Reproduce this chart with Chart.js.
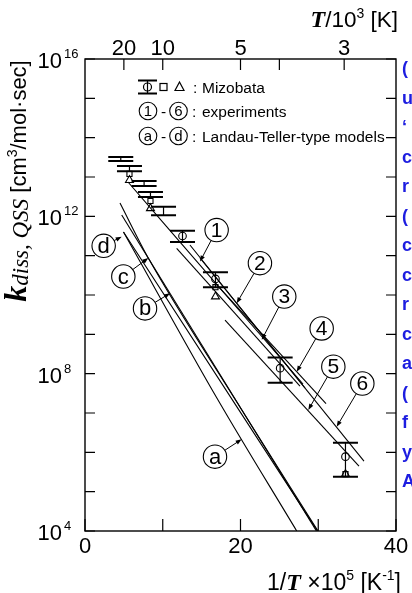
<!DOCTYPE html>
<html><head><meta charset="utf-8">
<script src="https://cdn.jsdelivr.net/npm/chart.js@4"></script>
<style>
html,body{margin:0;padding:0;background:#fff;overflow:hidden;width:412px;height:593px;}
#wrap{position:absolute;left:0;top:0;width:412px;height:593px;}
#side{position:absolute;left:402px;top:0;width:60px;height:593px;font:bold 18px "Liberation Sans",Arial,sans-serif;color:#1d1de0;white-space:nowrap;}
#side div{position:absolute;left:0;line-height:20px;}
</style></head><body>
<div id="wrap"><canvas id="c" width="412" height="593"></canvas></div>
<div id="side"></div>
<script>
// ---------------- data (x = 1/T x 1e5 [1/K], y = k [cm3/mol s]) ----------------
const bottomTickVals = [0, 10, 20, 30, 40];
const bottomTickLabels = ['0', '', '20', '', '40'];
const topTickTempK = [20000, 10000, 5000, 4000, 3000];
const topTickLabels = ['20', '10', '5', '', '3'];
const yDecadeExps = [4,5,6,7,8,9,10,11,12,13,14,15,16];
const yLabelExps = [4, 8, 12, 16];

// Mizobata: error bars
const mizoX    = [4.6, 5.72, 7.6, 8.42, 10.1, 12.54, 16.78, 25.1, 33.5];
const mizoLow  = [2.57e13, 1.41e13, 5.89e12, 3.09e12, 1.07e12, 2.24e11, 1.58e10, 5.89e7, 2.40e5];
const mizoHigh = [3.24e13, 1.91e13, 7.94e12, 4.17e12, 1.74e12, 4.27e11, 3.80e10, 2.57e8, 1.74e6];
// Mizobata: markers
const circleX = [12.54, 16.78, 25.1, 33.5];
const circleK = [3.16e11, 2.57e10, 1.38e8, 7.76e5];
const squareX = [5.72, 8.42, 16.78, 33.5];
const squareK = [1.2e13, 2.45e12, 1.58e10, 2.8e5];
const triangleX = [5.72, 8.42, 16.78, 33.5];
const triangleK = [8.3e12, 1.6e12, 9.1e9, 2.8e5];

// experiments 1-6
const exp1X = [5.53, 28.04],  exp1K = [7.46e12, 5.46e7];
const exp2X = [13.50, 28.30], exp2K = [1.87e11, 4.32e7];
const exp3X = [11.79, 27.65], exp3K = [1.54e11, 4.85e7];
const exp4X = [16.72, 31.00], exp4K = [2.02e10, 1.74e7];
const exp5X = [18.01, 35.24], exp5K = [2.31e9, 4.49e5];
const exp6X = [14.79, 35.88], exp6K = [8.71e10, 6.01e5];
// Landau-Teller-type models a-d
const modAX = [4.95, 17.11, 27.23], modAK = [3.99e11, 2.14e7, 1.0e4];
const modBX = [4.72, 29.77],        modBK = [1.08e12, 1.0e4];
const modCX = [4.50, 8.14, 19.36, 29.97], modCK = [2.18e12, 8.7e10, 2.14e7, 1.0e4];
const modDX = [4.95, 29.90],        modDK = [3.99e11, 1.0e4];

// circled labels and arrow tips
const labelText = ['1','2','3','4','5','6','a','b','c','d'];
const labelX = [16.93, 22.5, 25.63, 30.44, 31.94, 35.67, 16.72, 7.72, 4.93, 2.4];
const labelK = [4.47e11, 6.46e10, 9.12e9, 1.41e9, 1.51e8, 5.62e7, 7.76e5, 4.57e9, 2.95e10, 1.78e11];
const tipX = [14.79, 19.51, 22.73, 27.23, 28.72, 32.37, 20.15, 10.93, 8.14, 4.72];
const tipK = [7.08e10, 6.17e9, 7.24e8, 1.12e8, 1.20e7, 4.47e6, 2.14e6, 1.10e10, 8.7e10, 3.02e11];

const sideChars = ['(', 'u', '\u2018', 'c', 'r', '(', 'c', 'c', 'r', 'c', 'a', '(', 'f', 'y', 'A'];

// ---------------- rendering ----------------
const SANS = '"Liberation Sans", Arial, Helvetica, sans-serif';
const SERIF = '"Liberation Serif", "Times New Roman", serif';
const pts = (xs, ys) => xs.map((x, i) => ({x: x, y: ys[i]}));
const lineDS = (xs, ys) => ({type:'scatter', data: pts(xs, ys), showLine: true, pointRadius: 0, borderColor: '#000', borderWidth: 1.1, xAxisID:'x', yAxisID:'y', fill:false, cubicInterpolationMode:'monotone'});

function rich(ctx, parts, x, y, align) {
  let total = 0;
  parts.forEach(p => { ctx.font = p.f; p.w = ctx.measureText(p.t).width; total += p.w; });
  let cx = align === 'right' ? x - total : (align === 'center' ? x - total / 2 : x);
  ctx.textAlign = 'left';
  parts.forEach(p => { ctx.font = p.f; ctx.fillText(p.t, cx, y + (p.dy || 0)); cx += p.w; });
  return total;
}

const decor = {
  id: 'decor',
  beforeDatasetsDraw(chart) {
    const c = chart.ctx, xs = chart.scales.x, ys = chart.scales.y;
    c.save();
    c.strokeStyle = '#000';
    mizoX.forEach((v, i) => {
      const px = xs.getPixelForValue(v);
      const y1 = ys.getPixelForValue(mizoLow[i]), y2 = ys.getPixelForValue(mizoHigh[i]);
      c.lineWidth = 1.2;
      c.beginPath(); c.moveTo(px, y1); c.lineTo(px, y2); c.stroke();
      c.lineWidth = 2;
      c.beginPath(); c.moveTo(px - 12.5, y1); c.lineTo(px + 12.5, y1); c.moveTo(px - 12.5, y2); c.lineTo(px + 12.5, y2); c.stroke();
    });
    c.restore();
  },
  afterDraw(chart) {
    const c = chart.ctx, xs = chart.scales.x, ys = chart.scales.y, a = chart.chartArea;
    c.save();
    c.strokeStyle = '#000'; c.fillStyle = '#000';
    // frame
    c.lineWidth = 1.4;
    c.strokeRect(a.left, a.top, a.right - a.left, a.bottom - a.top);
    // ticks
    c.lineWidth = 1.2;
    c.beginPath();
    yDecadeExps.forEach(e => {
      const y = ys.getPixelForValue(Math.pow(10, e));
      c.moveTo(a.left, y); c.lineTo(a.left + 10, y);
      c.moveTo(a.right, y); c.lineTo(a.right - 10, y);
    });
    bottomTickVals.forEach(v => { const x = xs.getPixelForValue(v); c.moveTo(x, a.bottom); c.lineTo(x, a.bottom - 12); });
    topTickTempK.forEach(T => { const x = xs.getPixelForValue(1e5 / T); c.moveTo(x, a.top); c.lineTo(x, a.top + 11); });
    c.stroke();
    // tick labels
    c.textBaseline = 'alphabetic';
    c.font = '22px ' + SANS; c.textAlign = 'center';
    bottomTickVals.forEach((v, i) => { if (bottomTickLabels[i]) c.fillText(bottomTickLabels[i], xs.getPixelForValue(v), a.bottom + 22); });
    topTickTempK.forEach((T, i) => { if (topTickLabels[i]) c.fillText(topTickLabels[i], xs.getPixelForValue(1e5 / T), a.top - 4); });
    yLabelExps.forEach(e => {
      const y = ys.getPixelForValue(Math.pow(10, e));
      c.font = '22px ' + SANS; c.textAlign = 'right';
      c.fillText('10', a.left - 23, y + 9);
      c.font = '13px ' + SANS; c.textAlign = 'left';
      c.fillText(String(e), a.left - 21, y - 1);
    });
    // axis titles
    rich(c, [
      {t:'T', f:'bold italic 24px ' + SERIF},
      {t:'/10', f:'22.5px ' + SANS},
      {t:'3', f:'14px ' + SANS, dy:-9},
      {t:' [K]', f:'22.5px ' + SANS}
    ], 398, 27, 'right');
    rich(c, [
      {t:'1/', f:'23px ' + SANS},
      {t:'T', f:'bold italic 24px ' + SERIF},
      {t:' \u00d710', f:'23px ' + SANS},
      {t:'5', f:'14px ' + SANS, dy:-10},
      {t:' [K', f:'23px ' + SANS},
      {t:'-1', f:'14px ' + SANS, dy:-10},
      {t:']', f:'23px ' + SANS}
    ], 401, 590, 'right');
    c.save();
    c.translate(26, 181); c.rotate(-Math.PI / 2);
    rich(c, [
      {t:'k', f:'bold italic 32px ' + SERIF},
      {t:'diss, QSS', f:'italic 23px ' + SERIF, dy:2},
      {t:' [cm', f:'22px ' + SANS},
      {t:'3', f:'14px ' + SANS, dy:-9},
      {t:'/mol\u00b7sec]', f:'22px ' + SANS}
    ], 0, 0, 'center');
    c.restore();
    // legend
    const lx = 147.5;
    c.lineWidth = 2;
    c.beginPath(); c.moveTo(lx - 9.5, 80.5); c.lineTo(lx + 9.5, 80.5); c.moveTo(lx - 9.5, 93.5); c.lineTo(lx + 9.5, 93.5); c.stroke();
    c.lineWidth = 1.2;
    c.beginPath(); c.moveTo(lx, 80.5); c.lineTo(lx, 93.5); c.stroke();
    c.beginPath(); c.arc(lx, 87, 4, 0, Math.PI * 2); c.stroke();
    c.strokeRect(160, 83.5, 7, 7);
    c.beginPath(); c.moveTo(179.5, 82); c.lineTo(184, 90.5); c.lineTo(175, 90.5); c.closePath(); c.stroke();
    c.font = '15.5px ' + SANS; c.textAlign = 'left';
    c.fillText(':', 193, 92.5);
    c.fillText('Mizobata', 202, 92.5);
    const circ = (x, y, r, t, f) => {
      c.lineWidth = 1.1;
      c.beginPath(); c.arc(x, y, r, 0, Math.PI * 2); c.stroke();
      c.font = f; c.textAlign = 'center'; c.textBaseline = 'middle';
      c.fillText(t, x, y + 1);
      c.textBaseline = 'alphabetic';
    };
    circ(148, 111, 8.8, '1', '15px ' + SANS);
    circ(178.5, 111, 8.8, '6', '15px ' + SANS);
    circ(148, 136, 8.8, 'a', '15px ' + SANS);
    circ(178.5, 136, 8.8, 'd', '15px ' + SANS);
    c.font = '15.5px ' + SANS; c.textAlign = 'left';
    c.fillText('-', 161, 116.5); c.fillText('-', 161, 141.5);
    c.fillText(':', 192, 116.5); c.fillText('experiments', 202, 116.5);
    c.fillText(':', 192, 141.5); c.fillText('Landau-Teller-type models', 202, 141.5);
    // circled labels with arrows
    labelText.forEach((t, i) => {
      const cx = xs.getPixelForValue(labelX[i]), cy = ys.getPixelForValue(labelK[i]);
      const tx = xs.getPixelForValue(tipX[i]), ty = ys.getPixelForValue(tipK[i]);
      const r = 11.7;
      const isNum = /[0-9]/.test(t);
      circ(cx, cy, r, t, (isNum ? '21px ' : '22px ') + SANS);
      const dx = tx - cx, dy = ty - cy, L = Math.hypot(dx, dy);
      const ux = dx / L, uy = dy / L;
      const sx = cx + ux * r, sy = cy + uy * r;
      c.lineWidth = 1; c.beginPath(); c.moveTo(sx, sy); c.lineTo(tx - ux * 4, ty - uy * 4); c.stroke();
      c.beginPath();
      c.moveTo(tx, ty);
      c.lineTo(tx - ux * 6 - uy * 2.3, ty - uy * 6 + ux * 2.3);
      c.lineTo(tx - ux * 6 + uy * 2.3, ty - uy * 6 - ux * 2.3);
      c.closePath(); c.fill();
    });
    c.restore();
  }
};

const datasets = [
  lineDS(exp1X, exp1K), lineDS(exp2X, exp2K), lineDS(exp3X, exp3K),
  lineDS(exp4X, exp4K), lineDS(exp5X, exp5K), lineDS(exp6X, exp6K),
  lineDS(modAX, modAK), lineDS(modBX, modBK), lineDS(modCX, modCK), lineDS(modDX, modDK),
  {type:'scatter', data: pts(circleX, circleK), pointStyle:'circle', pointRadius:3.8, borderColor:'#000', backgroundColor:'rgba(0,0,0,0)', borderWidth:1.1, xAxisID:'x', yAxisID:'y'},
  {type:'scatter', data: pts(squareX, squareK), pointStyle:'rect', pointRadius:3.6, borderColor:'#000', backgroundColor:'rgba(255,255,255,0)', borderWidth:1.1, xAxisID:'x', yAxisID:'y'},
  {type:'scatter', data: pts(triangleX, triangleK), pointStyle:'triangle', pointRadius:4.6, borderColor:'#000', backgroundColor:'rgba(255,255,255,0)', borderWidth:1.1, xAxisID:'x', yAxisID:'y'}
];

const hidden = {ticks:{display:false}, grid:{display:false, drawTicks:false}, border:{display:false}, title:{display:false}};
new Chart(document.getElementById('c'), {
  type: 'scatter',
  data: {datasets: datasets},
  options: {
    responsive: false, animation: false, devicePixelRatio: 1,
    layout: {padding: 0},
    plugins: {legend: {display:false}, tooltip: {enabled:false}},
    scales: {
      x: Object.assign({type:'linear', position:'bottom', min:0, max:40, afterFit(s){ s.height = 62; }}, hidden),
      xTop: Object.assign({type:'linear', position:'top', min:0, max:40, afterFit(s){ s.height = 59; }}, hidden),
      y: Object.assign({type:'logarithmic', position:'left', min:1e4, max:1e16, afterFit(s){ s.width = 85; }}, hidden),
      yR: Object.assign({type:'logarithmic', position:'right', min:1e4, max:1e16, afterFit(s){ s.width = 16; }}, hidden)
    }
  },
  plugins: [decor]
});

const side = document.getElementById('side');
sideChars.forEach((w, i) => {
  const d = document.createElement('div');
  d.textContent = w;
  d.style.top = (58 + i * 29.5) + 'px';
  side.appendChild(d);
});
</script>
</body></html>
